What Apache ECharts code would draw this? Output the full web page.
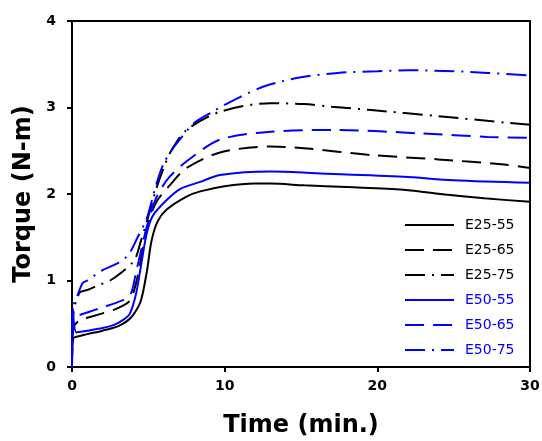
<!DOCTYPE html>
<html>
<head>
<meta charset="utf-8">
<script src="https://cdn.jsdelivr.net/npm/echarts@6/dist/echarts.min.js"></script>
<style>
  html, body { margin: 0; padding: 0; background: #fff; }
  #main { width: 542px; height: 441px; }
</style>
</head>
<body>
<div id="main"></div>
<script>
// series names (legend order)
var names = ['E25-55', 'E25-65', 'E25-75', 'E50-55', 'E50-65', 'E50-75'];

// [time (min), torque (N-m)]
var e25_55 = [[0,0],[0.08,0.33],[0.3,0.35],[1,0.38],[2,0.42],[3,0.47],[3.6,0.53],[4,0.6],[4.5,0.76],[4.9,1.1],[5.2,1.45],[5.6,1.68],[6.2,1.82],[7.5,1.97],[8.4,2.03],[10,2.09],[12,2.12],[13,2.12],[15.2,2.1],[18,2.08],[21.7,2.05],[24.6,1.99],[27,1.95],[30,1.91]];
var e25_65 = [[0,0],[0.08,0.45],[0.5,0.54],[1,0.57],[2,0.62],[3,0.68],[3.8,0.77],[4.3,1.05],[4.9,1.6],[5.5,1.9],[6.5,2.12],[7.5,2.3],[9.7,2.48],[13,2.55],[15.2,2.53],[19.6,2.45],[24,2.4],[28.3,2.34],[30,2.3]];
var e25_75 = [[0,0],[0.08,0.6],[0.5,0.86],[1,0.89],[1.8,0.95],[2.5,1.0],[3.3,1.1],[4.1,1.24],[4.5,1.45],[4.9,1.68],[5.5,2.05],[6,2.3],[6.5,2.5],[7.5,2.74],[9.7,2.95],[13,3.05],[15.2,3.04],[17,3.01],[19.6,2.97],[24,2.9],[28.7,2.82],[30,2.8]];
var e50_55 = [[0,0],[0.05,0.68],[0.3,0.4],[1,0.42],[2,0.45],[2.8,0.49],[3.4,0.55],[3.8,0.62],[4.2,0.85],[4.5,1.15],[4.9,1.55],[5.3,1.75],[6.2,1.93],[7.1,2.06],[8.4,2.14],[9.7,2.22],[13,2.26],[16,2.24],[21.7,2.2],[25,2.16],[30,2.13]];
var e50_65 = [[0,0],[0.05,0.55],[0.5,0.6],[1,0.63],[2,0.69],[3,0.75],[3.8,0.83],[4.2,1.1],[4.9,1.62],[5.5,1.95],[6.4,2.2],[7.9,2.43],[9.7,2.63],[13,2.72],[17.4,2.74],[22.9,2.7],[27.2,2.66],[30,2.65]];
var e50_75 = [[0,0],[0.05,0.7],[0.3,0.8],[0.7,0.97],[1,1.0],[2,1.12],[3,1.2],[3.7,1.3],[4.3,1.5],[4.9,1.72],[5.5,2.1],[6,2.35],[6.5,2.5],[7.2,2.66],[8,2.82],[9.2,2.95],[10,3.03],[11,3.12],[12.5,3.24],[13.7,3.3],[15,3.35],[17.4,3.4],[20,3.42],[22,3.43],[25,3.42],[27.2,3.4],[30,3.37]];

var xTicks = [0, 10, 20, 30];
var yTicks = [0, 1, 2, 3, 4];

var BLUE = '#0000ff';
var dashT = [19, 9];
var dashDotT = [20, 7, 2, 7];

function mk(name, data, color, type) {
  return {
    name: name,
    type: 'line',
    data: data,
    showSymbol: false,
    symbol: 'none',
    smooth: 0.3,
    lineStyle: { color: color, width: 2, type: type },
    itemStyle: { color: color }
  };
}

var chart = echarts.init(document.getElementById('main'));
chart.setOption({
  animation: false,
  backgroundColor: '#fff',
  grid: {
    left: 72, right: 12, top: 21, bottom: 74, outerBoundsMode: 'none',
    show: true, borderColor: '#000', borderWidth: 2
  },
  legend: {
    left: 404, top: 218, orient: 'vertical', padding: 0,
    itemWidth: 49, itemHeight: 14, itemGap: 11,
    itemStyle: { opacity: 0 },
    textStyle: { fontSize: 14, fontFamily: 'DejaVu Sans', padding: [0, 0, 0, 6] },
    data: names.map(function (n) {
      return { name: n, textStyle: { color: n.indexOf('E50') === 0 ? BLUE : '#000' } };
    })
  },
  xAxis: {
    type: 'value', min: xTicks[0], max: xTicks[xTicks.length - 1], interval: 10,
    name: 'Time (min.)', nameLocation: 'middle', nameGap: 47,
    nameTextStyle: { fontSize: 24, fontWeight: 'bold', fontFamily: 'DejaVu Sans', color: '#000' },
    axisLine: { lineStyle: { color: '#000', width: 2 } },
    axisTick: { length: 5, lineStyle: { color: '#000', width: 2 } },
    axisLabel: { color: '#000', fontSize: 14, fontWeight: 'bold', fontFamily: 'DejaVu Sans', margin: 12 },
    splitLine: { show: false }
  },
  yAxis: {
    type: 'value', min: yTicks[0], max: yTicks[yTicks.length - 1], interval: 1,
    name: 'Torque (N-m)', nameLocation: 'middle', nameGap: 36,
    nameTextStyle: { fontSize: 24, fontWeight: 'bold', fontFamily: 'DejaVu Sans', color: '#000' },
    axisLine: { lineStyle: { color: '#000', width: 2 } },
    axisTick: { length: 5, lineStyle: { color: '#000', width: 2 } },
    axisLabel: { color: '#000', fontSize: 14, fontWeight: 'bold', fontFamily: 'DejaVu Sans', margin: 16 },
    splitLine: { show: false }
  },
  series: [
    mk(names[0], e25_55, '#000', 'solid'),
    mk(names[1], e25_65, '#000', dashT),
    mk(names[2], e25_75, '#000', dashDotT),
    mk(names[3], e50_55, BLUE, 'solid'),
    mk(names[4], e50_65, BLUE, dashT),
    mk(names[5], e50_75, BLUE, dashDotT)
  ]
});
</script>
</body>
</html>
